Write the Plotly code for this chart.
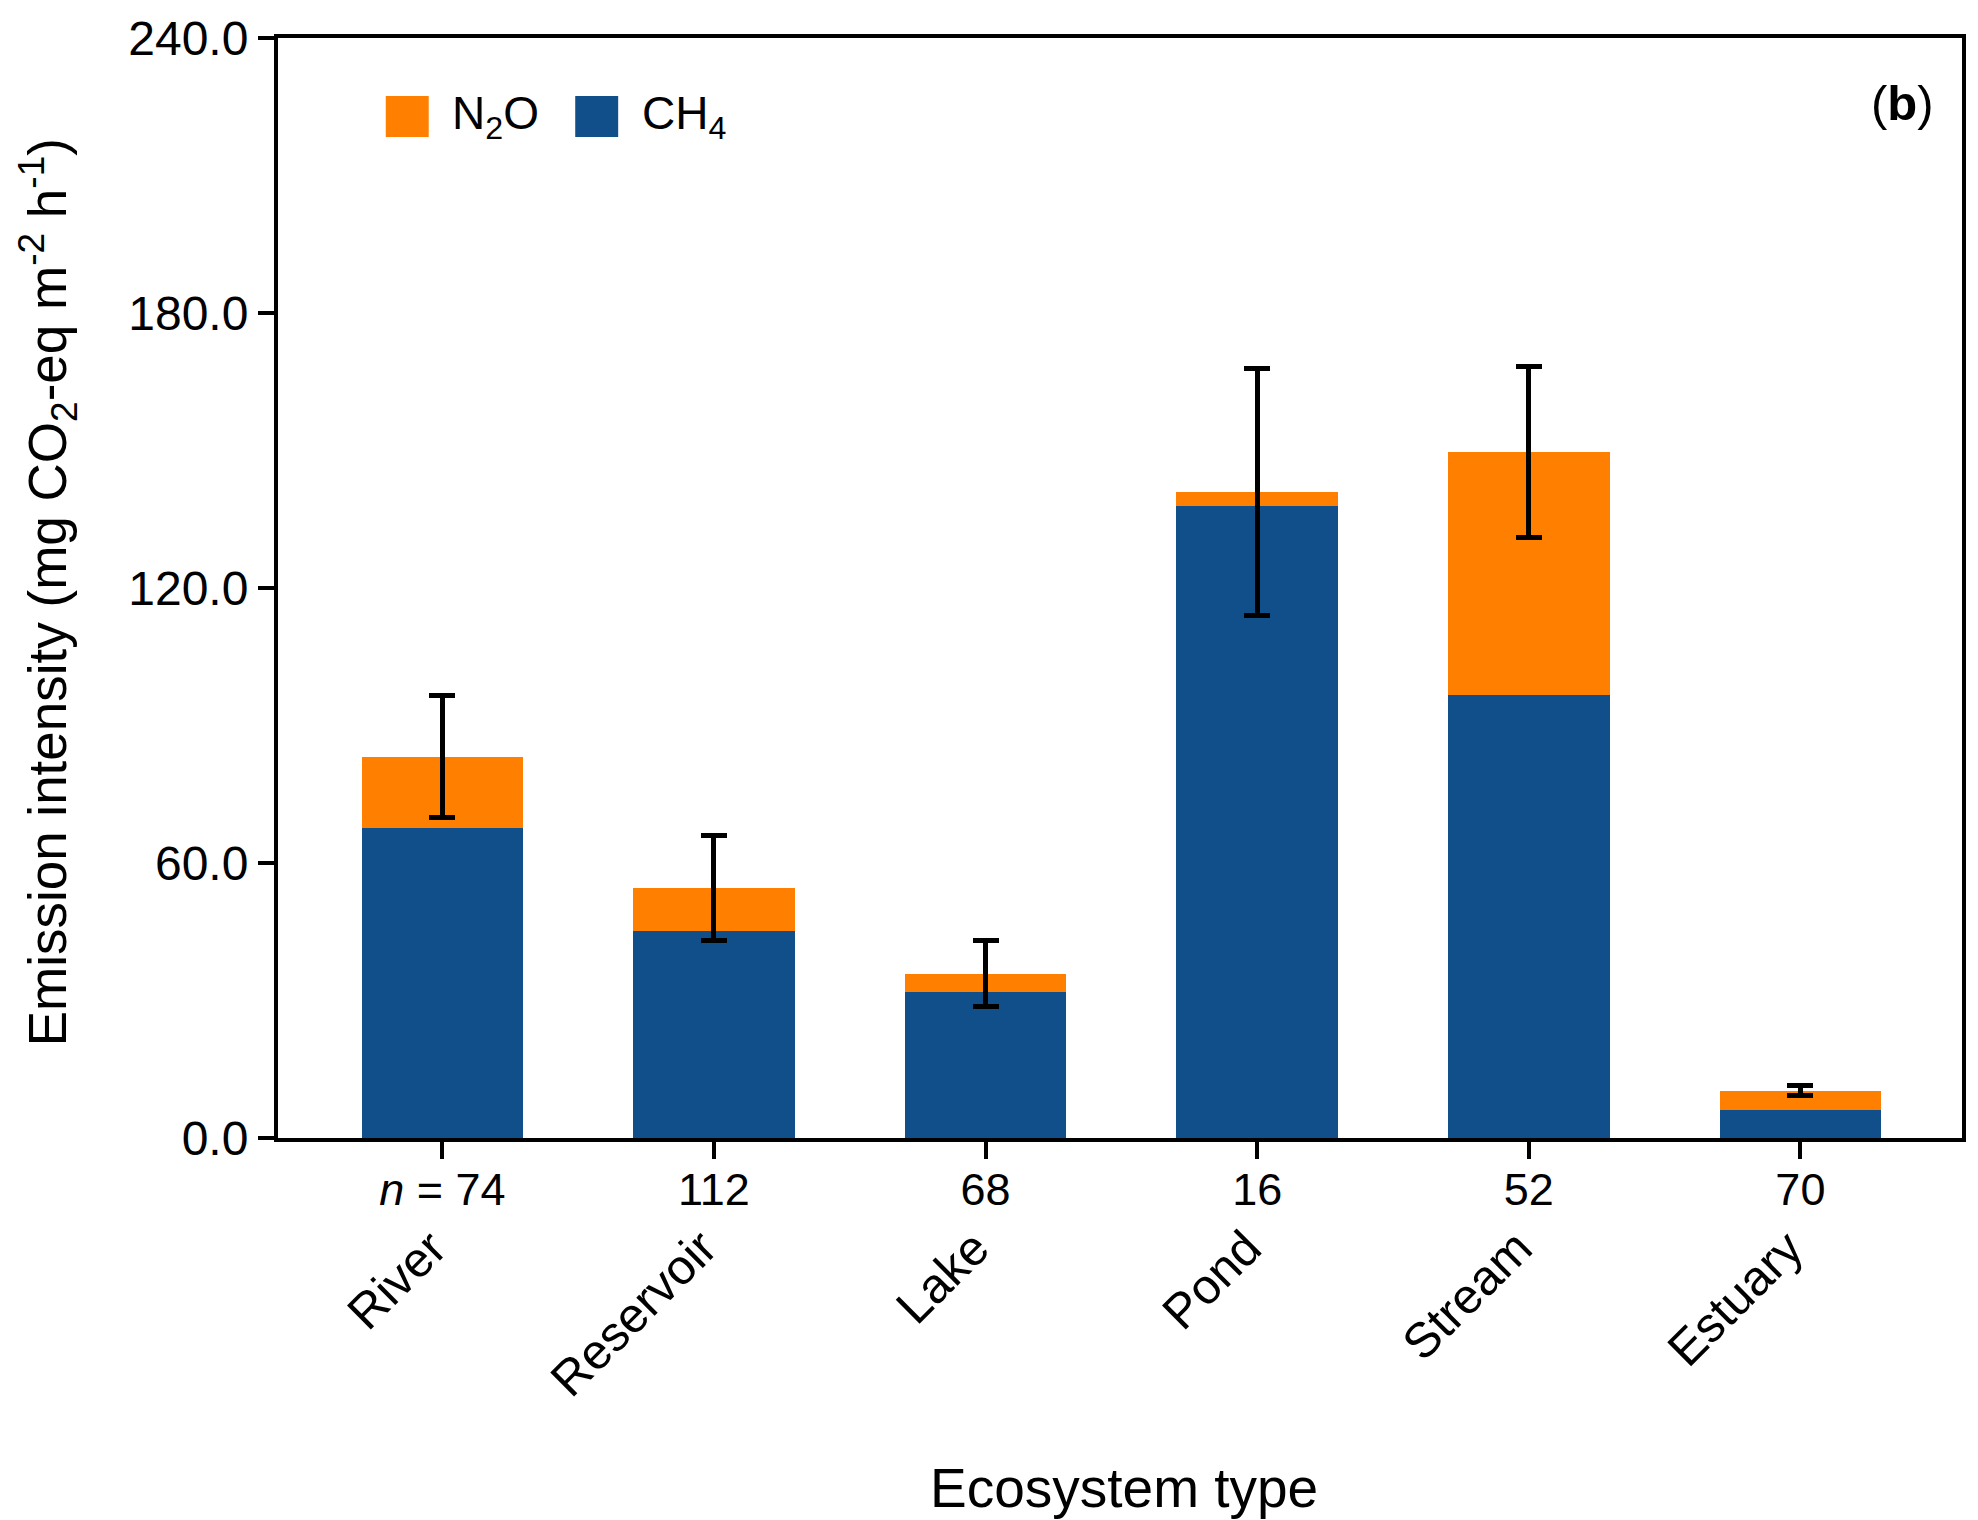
import plotly.graph_objects as go

# Ecosystem categories and sample sizes
ecosystems = ["River", "Reservoir", "Lake", "Pond", "Stream", "Estuary"]
sample_n = [74, 112, 68, 16, 52, 70]

# Mean emission intensity components (mg CO2-eq m-2 h-1)
ch4_values = [67.7, 45.1, 31.9, 137.9, 96.6, 6.1]
n2o_values = [15.5, 9.4, 3.9, 3.1, 53.0, 4.2]

# Error bar bounds for total emission intensity
err_low = [70.0, 43.2, 28.6, 114.1, 131.0, 9.2]
err_high = [96.6, 66.0, 43.2, 167.9, 168.4, 11.5]

y_ticks = [0, 60, 120, 180, 240]

CH4_COLOR = "#114F8A"
N2O_COLOR = "#FF8000"
FONT = "Liberation Sans, Arial, sans-serif"

totals = [c + n for c, n in zip(ch4_values, n2o_values)]
err_plus = [h - t for h, t in zip(err_high, totals)]
err_minus = [t - l for t, l in zip(totals, err_low)]

tick_text = [("<i>n</i> = %d" % n) if i == 0 else str(n) for i, n in enumerate(sample_n)]

fig = go.Figure()
fig.add_trace(go.Bar(
    x=ecosystems, y=ch4_values, name="CH4",
    marker=dict(color=CH4_COLOR, line=dict(width=0)),
    width=0.595, showlegend=False,
))
fig.add_trace(go.Bar(
    x=ecosystems, y=n2o_values, name="N2O",
    marker=dict(color=N2O_COLOR, line=dict(width=0)),
    width=0.595, showlegend=False,
    error_y=dict(type="data", symmetric=False, array=err_plus, arrayminus=err_minus,
                 color="black", thickness=5, width=13),
))

fig.update_layout(
    width=1978, height=1520,
    margin=dict(l=278, r=12, t=38, b=382),
    barmode="stack",
    plot_bgcolor="white", paper_bgcolor="white",
    font=dict(family=FONT, size=45, color="black"),
    showlegend=False,
)

fig.update_xaxes(
    type="category", range=[-0.605, 5.595],
    tickvals=ecosystems, ticktext=tick_text,
    showline=True, linewidth=4, linecolor="black", mirror=True,
    ticks="outside", ticklen=17, tickwidth=4, tickcolor="black",
    ticklabelstandoff=-8,
    tickfont=dict(family=FONT, size=45, color="black"),
    showgrid=False, zeroline=False,
)
fig.update_yaxes(
    range=[0, 240], tickvals=y_ticks, tickformat=".1f",
    showline=True, linewidth=4, linecolor="black", mirror=True,
    ticks="outside", ticklen=16, tickwidth=4, tickcolor="black",
    tickfont=dict(family=FONT, size=48, color="black"),
    showgrid=False, zeroline=False,
)

annotations = []
# Rotated ecosystem names beneath the sample-size labels
for name in ecosystems:
    annotations.append(dict(
        x=name, xref="x", y=-0.0721, yref="paper",
        text=name, showarrow=False, textangle=-45,
        xanchor="right", yanchor="top", xshift=16,
        font=dict(family=FONT, size=49, color="black"),
    ))

# Axis titles
annotations.append(dict(
    x=0.5024, xref="paper", y=-0.318, yref="paper",
    text="Ecosystem type", showarrow=False,
    xanchor="center", yanchor="middle",
    font=dict(family=FONT, size=55, color="black"),
))
annotations.append(dict(
    x=-0.1372, xref="paper", y=0.496, yref="paper",
    text="Emission intensity (mg CO<sub>2</sub>-eq m<sup>-2</sup> h<sup>-1</sup>)",
    showarrow=False, textangle=-90,
    xanchor="center", yanchor="middle",
    font=dict(family=FONT, size=53, color="black"),
))

# Panel label
annotations.append(dict(
    x=0.9845, xref="paper", y=0.9405, yref="paper",
    text="(<b>b</b>)", showarrow=False,
    xanchor="right", yanchor="middle",
    font=dict(family=FONT, size=49, color="black"),
))

# Legend entries
legend_items = [("N<sub>2</sub>O", N2O_COLOR, 0.064, 0.1019), ("CH<sub>4</sub>", CH4_COLOR, 0.1765, 0.2150)]
shapes = []
for label, color, x0, xt in legend_items:
    shapes.append(dict(
        type="rect", xref="paper", yref="paper",
        x0=x0, x1=x0 + 0.0255, y0=0.910, y1=0.9473,
        fillcolor=color, line=dict(width=0),
    ))
    annotations.append(dict(
        x=xt, xref="paper", y=0.9286, yref="paper",
        text=label, showarrow=False,
        xanchor="left", yanchor="middle",
        font=dict(family=FONT, size=46, color="black"),
    ))

fig.update_layout(annotations=annotations, shapes=shapes)

fig.write_html("out.html")
